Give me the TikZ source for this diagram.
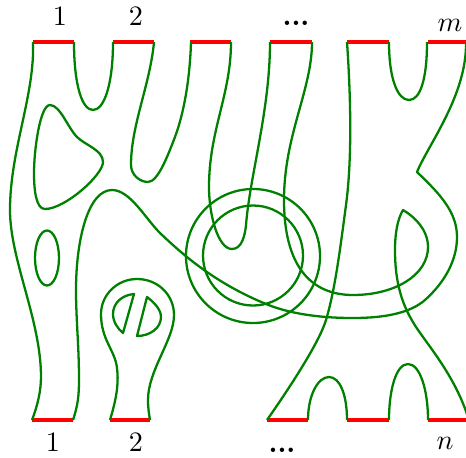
\documentclass[tikz,border=0pt]{standalone}
\usepackage{amsmath,amssymb}
\usepackage{xcolor}
\definecolor{strandgreen}{rgb}{0, 0.5, 0}
\usepackage{tikz}

\begin{document}
\begin{tikzpicture}[x=0.02cm, y=-0.02cm, bar/.style = {red, line width=1.9pt}, strand/.style = {strandgreen, line width=1.3pt, line join=round}, lab/.style = {scale=1.6, inner sep=0pt}]
\useasboundingbox (0,0) rectangle (466,457);

\draw[bar] (33,42) -- (74,42);
\draw[bar] (113,42) -- (154,42);
\draw[bar] (190,42) -- (231,42);
\draw[bar] (270,42) -- (312,42);
\draw[bar] (347,42) -- (389,42);
\draw[bar] (428,42) -- (466,42);

\draw[bar] (32,420) -- (73,420);
\draw[bar] (110,420) -- (150,420);
\draw[bar] (267,420) -- (308,420);
\draw[bar] (347,420) -- (389,420);
\draw[bar] (428,420) -- (466,420);

\node[lab] (top1) at (60,16) {$1$};
\node[lab] (top2) at (136,16) {$2$};
\node[lab, anchor=base] (topdots) at (296,25) {\textbf{...}};
\node[lab, anchor=base] (topm) at (450,31) {$m$};
\node[lab] (bot1) at (53,442) {$1$};
\node[lab] (bot2) at (136,442) {$2$};
\node[lab, anchor=base] (botdots) at (282,452) {\textbf{...}};
\node[lab, anchor=base] (botn) at (445,449) {$n$};

% left side
\draw[strand] (33,42) .. controls (35,95) and (10,150) .. (10,210) .. controls (10,260) and (41,320) .. (41,377) .. controls (41,392) and (37,407) .. (32,420);
\draw[strand] (74,42) .. controls (74,85) and (82,110) .. (93,110) .. controls (104,110) and (113,85) .. (113,42);
\draw[strand] (154,42) .. controls (150,85) and (131,125) .. (131,165) .. controls (131,175) and (140,182) .. (148,182) .. controls (158,182) and (168,155) .. (175,137) .. controls (185,110) and (190,75) .. (191,42);
\draw[strand] (50,105) .. controls (60,105) and (68,128) .. (77,137) .. controls (85,145) and (103,150) .. (103,162) .. controls (103,175) and (65,209) .. (45,209) .. controls (36,209) and (34,190) .. (34,173) .. controls (34,150) and (40,105) .. (50,105) -- cycle;
\draw[strand] (47,258) ellipse (12 and 27.5);

% bulb
\draw[strand] (110,420) .. controls (116,400) and (119,385) .. (117,368) .. controls (115,350) and (101,340) .. (101,314) .. controls (101,295) and (117,279) .. (137,279) .. controls (158,279) and (174,295) .. (174,315) .. controls (174,340) and (148,370) .. (148,400) .. controls (148,408) and (149,414) .. (150,420);
\draw[strand] (134,294) .. controls (122,295) and (113,303) .. (113,314) .. controls (113,322) and (118,329) .. (123,333) -- cycle;
\draw[strand] (147,297) .. controls (155,303) and (161,310) .. (161,317) .. controls (161,328) and (150,336) .. (137,336) -- cycle;

% circles
\draw[strand] (253,256) circle (67);
\draw[strand] (253,255.5) circle (50);

% long strands
\draw[strand] (73,420) .. controls (78,405) and (79,395) .. (79,380) .. controls (79,345) and (76,320) .. (76,290) .. controls (76,240) and (88,190) .. (112,190) .. controls (130,190) and (145,218) .. (160,233) .. controls (183,255) and (215,283) .. (266,304) .. controls (295,316) and (330,318) .. (353,318) .. controls (385,318) and (410,313) .. (425,300) .. controls (445,282) and (457,260) .. (457,237) .. controls (457,212) and (440,194) .. (417,172) .. controls (428,145) and (467,95) .. (466,42);
\draw[strand] (231,42) .. controls (231,95) and (209,130) .. (209,187) .. controls (209,215) and (218,249) .. (232,249) .. controls (242,249) and (245,235) .. (246,225) .. controls (250,175) and (270,110) .. (270,42);
\draw[strand] (312,42) .. controls (312,90) and (284,135) .. (284,200) .. controls (284,265) and (310,295) .. (353,295) .. controls (395,295) and (428,275) .. (428,247) .. controls (428,230) and (415,217) .. (403,210) .. controls (397,220) and (395,235) .. (395,250) .. controls (395,285) and (403,307) .. (416,327) .. controls (430,348) and (458,380) .. (470,424);
\draw[strand] (347,42) .. controls (351,100) and (352,160) .. (346,205) .. controls (340,250) and (335,290) .. (326,320) .. controls (320,340) and (295,380) .. (267,420);

% top and bottom caps
\draw[strand] (389,42) .. controls (389,80) and (398,100) .. (409,100) .. controls (420,100) and (427,80) .. (427,42);
\draw[strand] (308,420) .. controls (308,395) and (318,377) .. (329,377) .. controls (340,377) and (347,395) .. (347,420);
\draw[strand] (389,420) .. controls (389,390) and (396,364) .. (408,364) .. controls (420,364) and (428,390) .. (428,420);
\end{tikzpicture}
\end{document}
